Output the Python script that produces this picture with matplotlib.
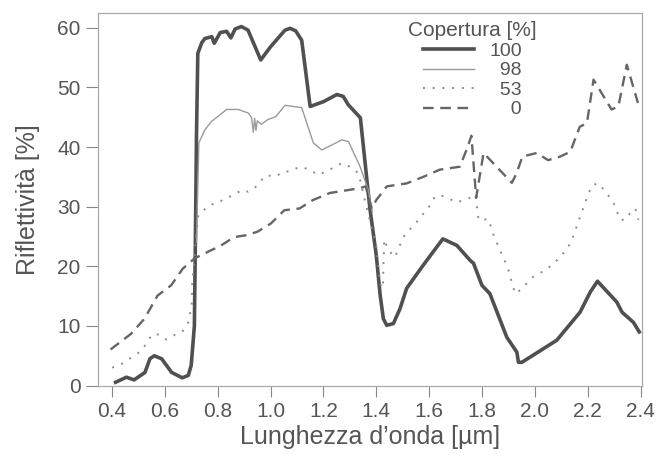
import numpy as np
import matplotlib.pyplot as plt

plt.rcParams['font.family'] = ['Liberation Sans', 'DejaVu Sans']

# Copertura 100 %
wl_100 = [0.414, 0.455, 0.484, 0.525, 0.544, 0.56, 0.588, 0.626, 0.666, 0.689, 0.70,
          0.712, 0.716, 0.72, 0.725, 0.74, 0.752, 0.778, 0.787, 0.81, 0.834, 0.85,
          0.866, 0.89, 0.915, 0.963, 1.0, 1.055, 1.074, 1.095, 1.118, 1.15, 1.2,
          1.251, 1.275, 1.294, 1.34, 1.376, 1.40, 1.415, 1.427, 1.44, 1.465, 1.49,
          1.515, 1.578, 1.652, 1.705, 1.755, 1.768, 1.80, 1.83, 1.894, 1.932, 1.938,
          1.951, 2.083, 2.171, 2.21, 2.237, 2.31, 2.33, 2.373, 2.395]
refl_100 = [0.55, 1.4, 0.95, 2.2, 4.5, 5.0, 4.5, 2.2, 1.3, 1.7, 3.4,
            10, 25, 42, 55.7, 57.5, 58.2, 58.5, 57.4, 59.2, 59.4, 58.3,
            59.8, 60.2, 59.6, 54.6, 56.8, 59.6, 59.9, 59.5, 57.9, 46.8, 47.6,
            48.8, 48.5, 47.1, 44.9, 29.7, 21.9, 15.1, 11.2, 10.1, 10.4, 12.9,
            16.3, 20.2, 24.6, 23.5, 21, 20.5, 16.8, 15.4, 8.1, 5.6, 3.9,
            3.9, 7.6, 12.3, 15.7, 17.5, 14.0, 12.3, 10.6, 9.0]

# Copertura 98 %
wl_98 = [0.72, 0.729, 0.752, 0.777, 0.809, 0.834, 0.878, 0.916, 0.928, 0.935, 0.94,
         0.945, 0.95, 0.965, 0.99, 1.02, 1.055, 1.118, 1.162, 1.194, 1.27, 1.295,
         1.339, 1.37, 1.385]
refl_98 = [24, 40.7, 42.9, 44.3, 45.4, 46.3, 46.3, 45.7, 45.0, 42.5, 44.8,
           42.8, 44.4, 43.8, 44.6, 45.1, 47.0, 46.6, 40.7, 39.5, 41.2, 40.9,
           36.7, 32.8, 29.0]

# Copertura 53 %
wl_53 = [0.401, 0.436, 0.467, 0.493, 0.518, 0.537, 0.556, 0.581, 0.607, 0.638, 0.666,
         0.689, 0.702, 0.704, 0.71, 0.72, 0.727, 0.77, 0.802, 0.827, 0.865, 0.89,
         0.916, 0.94, 0.96, 0.985, 1.017, 1.05, 1.074, 1.11, 1.15, 1.18, 1.21,
         1.245, 1.27, 1.30, 1.333, 1.36, 1.38, 1.40, 1.415, 1.425, 1.43, 1.445,
         1.47, 1.485, 1.497, 1.515, 1.538, 1.56, 1.58, 1.60, 1.614, 1.64, 1.673,
         1.705, 1.75, 1.775, 1.787, 1.825, 1.844, 1.872, 1.898, 1.916, 1.926,
         1.947, 1.992, 2.045, 2.096, 2.136, 2.169, 2.193, 2.216, 2.241, 2.273,
         2.298, 2.323, 2.342, 2.36, 2.38, 2.392]
refl_53 = [3.0, 3.6, 4.5, 5.2, 6.2, 7.6, 8.7, 8.5, 7.7, 8.5, 9.0,
           10.6, 13.5, 17.4, 20.2, 25.8, 28.6, 30.3, 30.6, 31.4, 32.0, 32.8,
           32.5, 33.1, 34.2, 35.3, 35.0, 35.9, 35.9, 36.7, 36.2, 35.3, 35.9,
           36.7, 37.3, 36.7, 35.6, 30.5, 27.0, 23.5, 17.0, 16.3, 24.5, 22.8,
           21.5, 23.0, 24.4, 25.8, 26.6, 27.8, 28.9, 30.0, 31.3, 32.0, 31.4,
           30.7, 31.4, 32.0, 27.8, 27.9, 25.2, 22.3, 19.7, 16.8, 15.4,
           16.1, 18.2, 19.5, 21.5, 23.9, 28.0, 31.0, 33.6, 33.9, 32.2,
           30.6, 27.8, 27.8, 28.9, 29.7, 27.8]

# Copertura 0 %
wl_0 = [0.395, 0.473, 0.523, 0.573, 0.624, 0.668, 0.712, 0.762, 0.813, 0.863, 0.907,
        0.951, 1.002, 1.052, 1.11, 1.16, 1.225, 1.338, 1.36, 1.383, 1.40, 1.44,
        1.515, 1.578, 1.64, 1.716, 1.746, 1.76, 1.778, 1.806, 1.913, 1.93, 1.953,
        2.007, 2.05, 2.096, 2.134, 2.17, 2.197, 2.222, 2.29, 2.316, 2.348, 2.39]
refl_0 = [6.05, 8.7, 11.2, 15.1, 16.8, 19.6, 21.3, 22.4, 23.5, 24.9, 25.2,
          25.8, 27.2, 29.4, 29.7, 31.1, 32.3, 33.1, 33.4, 29.7, 31.1, 33.4,
          33.9, 35.0, 36.2, 36.7, 40.0, 41.9, 31.5, 39.0, 34.0, 35.5, 38.4,
          39.0, 37.8, 38.4, 39.2, 43.4, 44.0, 51.3, 46.3, 46.8, 53.8, 47.4]

x_ticks = [0.4, 0.6, 0.8, 1.0, 1.2, 1.4, 1.6, 1.8, 2.0, 2.2, 2.4]
y_ticks = [0, 10, 20, 30, 40, 50, 60]

txt = '#555555'
fig = plt.figure(figsize=(6.57, 4.59), dpi=100)
ax = fig.add_axes([0.149, 0.160, 0.828, 0.812])

ax.plot(wl_100, refl_100, color='#505050', lw=2.6, label='100')
ax.plot(wl_98, refl_98, color='#9a9a9a', lw=1.0, label='\u200798')
ax.plot(wl_53, refl_53, color='#8a8a8a', lw=1.4, linestyle=(0, (1, 4)), label='\u200753')
ax.plot(wl_0, refl_0, color='#666666', lw=1.7, linestyle=(0, (4.5, 2.8)), label='\u2007\u20070')

ax.set_xlim(0.347, 2.405)
ax.set_ylim(0, 62.5)
ax.set_xticks(x_ticks)
ax.set_xticklabels([f'{v:.1f}' for v in x_ticks])
ax.set_yticks(y_ticks)
ax.tick_params(axis='both', direction='out', width=0.8, color='#888888',
               labelcolor=txt, labelsize=15, pad=3.5)
ax.tick_params(axis='y', length=9)
ax.tick_params(axis='x', length=8)
for s in ax.spines.values():
    s.set_color('#aaaaaa')
    s.set_linewidth(0.9)

ax.set_xlabel('Lunghezza d\u2019onda [\u00b5m]', fontsize=18, color=txt, labelpad=3)
ax.set_ylabel('Riflettività [%]', fontsize=18, color=txt, labelpad=12)

leg = ax.legend(title='Copertura [%]', loc='upper center', bbox_to_anchor=(0.689, 1.014),
                frameon=False, fontsize=14, title_fontsize=15, handlelength=2.6,
                labelspacing=0.1, handletextpad=0.8, borderpad=0.2)
leg.get_title().set_color(txt)
for t in leg.get_texts():
    t.set_color(txt)

fig.savefig('out.png', dpi=100)
